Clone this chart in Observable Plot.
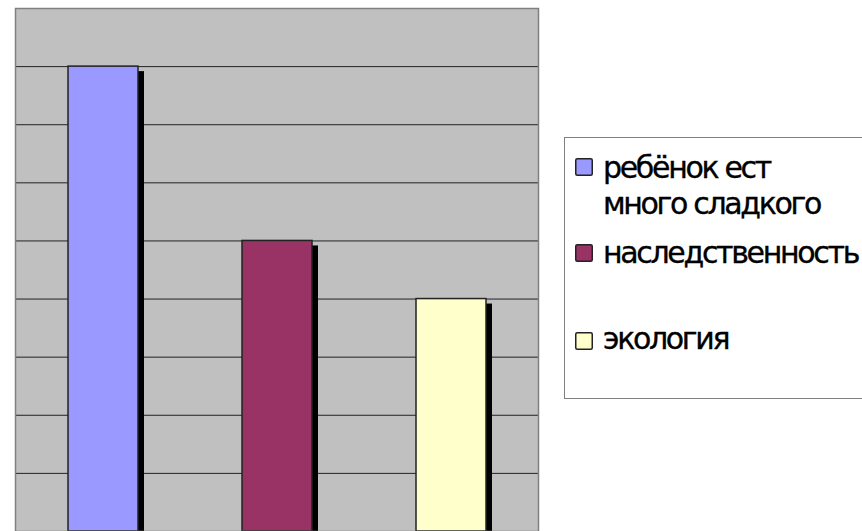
<!DOCTYPE html>
<html>
<head>
<meta charset="utf-8">
<script src="https://cdn.jsdelivr.net/npm/d3@7"></script>
<script src="https://cdn.jsdelivr.net/npm/@observablehq/plot@0.6"></script>
<style>
  html, body { margin: 0; padding: 0; background: #fff; }
  #wrap { position: relative; width: 862px; height: 531px; overflow: hidden; }
  #wrap svg.legend { position: absolute; left: 0; top: 0; }
</style>
</head>
<body>
<div id="wrap"></div>
<script>
const categories = ["ребёнок ест много сладкого", "наследственность", "экология"];
const legendLines = [["ребёнок ест", "много сладкого"], ["наследственность"], ["экология"]];
const values = [8, 5, 4];
const colors = ["#9999FF", "#993366", "#FFFFCC"];
const yTicks = [0, 1, 2, 3, 4, 5, 6, 7, 8, 9];

const data = categories.map((c, i) => ({category: c, value: values[i], color: colors[i]}));

const chart = Plot.plot({
  width: 862,
  height: 531,
  marginLeft: 15,
  marginRight: 324,
  marginTop: 8,
  marginBottom: 0,
  style: {background: "#fff"},
  x: {domain: categories, padding: 0, axis: null},
  y: {domain: [0, 9], axis: null},
  marks: [
    Plot.frame({fill: "#C0C0C0", stroke: "none"}),
    Plot.ruleY(yTicks.slice(1, -1), {stroke: "#222", strokeWidth: 1}),
    Plot.barY(data, {x: "category", y: "value", fill: "#000", dx: 6, dy: 5, insetLeft: 52, insetRight: 52}),
    Plot.barY(data, {x: "category", y: "value", fill: "color", stroke: "#222", strokeWidth: 1.5, insetLeft: 52, insetRight: 52}),
    Plot.frame({stroke: "#808080", strokeWidth: 1.5})
  ]
});
const wrap = document.getElementById("wrap");
wrap.appendChild(chart);

// legend
const svg = d3.select(wrap).append("svg").attr("class", "legend")
  .attr("width", 862).attr("height", 531);
svg.append("rect").attr("x", 564.5).attr("y", 137.5).attr("width", 320).attr("height", 261)
  .attr("fill", "#fff").attr("stroke", "#808080").attr("stroke-width", 1);
const swatchTops = [158, 244, 332];
const baselines = [[178, 214], [263], [349]];
const fontFamily = "'DejaVu Sans', sans-serif";
const fontSize = 30;
const probe = svg.append("text").attr("font-family", fontFamily).attr("font-size", fontSize).text("наследственность");
const w = probe.node().getComputedTextLength();
probe.remove();
const target = 255;
const ls = (target - w) / 16;
legendLines.forEach((lines, i) => {
  svg.append("rect").attr("x", 575.75).attr("y", swatchTops[i] + 0.75).attr("width", 16.5).attr("height", 16.5)
    .attr("fill", colors[i]).attr("stroke", "#222").attr("stroke-width", 1.5).attr("rx", 1.5);
  lines.forEach((ln, j) => {
    svg.append("text").attr("x", 603).attr("y", baselines[i][j])
      .attr("font-family", fontFamily).attr("font-size", fontSize)
      .attr("letter-spacing", ls).attr("fill", "#000")
      .attr("stroke", "#000").attr("stroke-width", 0.35).text(ln);
  });
});
</script>
</body>
</html>
